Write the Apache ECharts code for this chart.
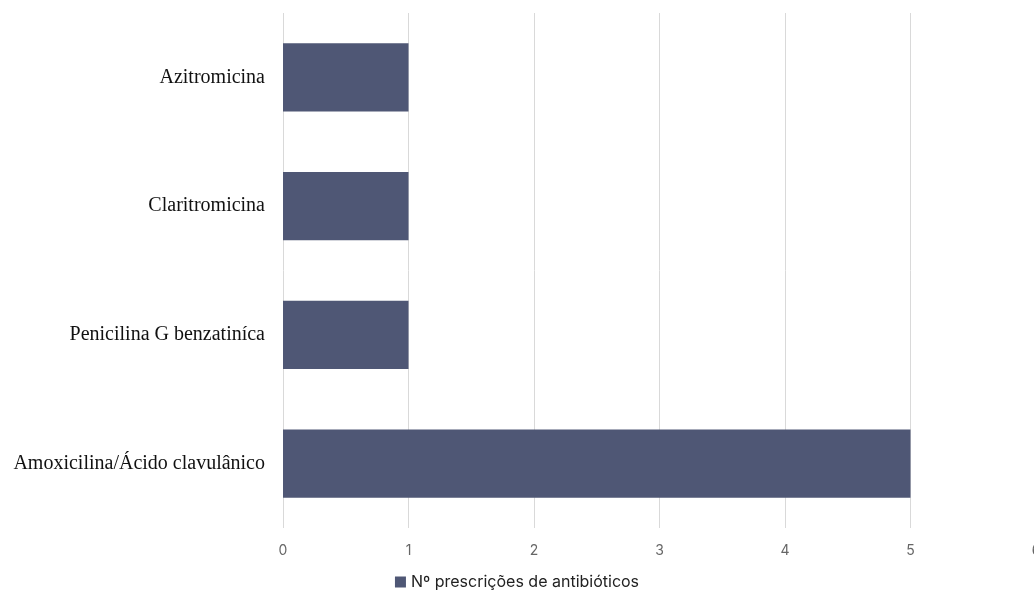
<!DOCTYPE html>
<html><head><meta charset="utf-8">
<script src="https://cdn.jsdelivr.net/npm/echarts@6/dist/echarts.min.js"></script>
<style>html,body{margin:0;padding:0;background:#fff}#c{width:1034px;height:592px}</style>
</head><body><div id="c"></div>
<script>
const categories = ['Amoxicilina/Ácido clavulânico', 'Penicilina G benzatiníca', 'Claritromicina', 'Azitromicina'];
const values = [5, 1, 1, 1];
const seriesName = 'Nº prescrições de antibióticos';
const chart = echarts.init(document.getElementById('c'));
chart.setOption({
  animation: false,
  grid: { left: 283, right: -2, top: 13, bottom: 64, outerBoundsMode: 'none', containLabel: false },
  legend: {
    bottom: -3, left: 'center', itemWidth: 11, itemHeight: 11, itemGap: 3,
    textStyle: { fontFamily: 'Inter', fontSize: 16, color: '#222' },
    data: [{ name: seriesName, icon: 'rect' }]
  },
  xAxis: {
    type: 'value', min: 0, max: 6, interval: 1,
    axisLine: { show: false }, axisTick: { show: false },
    splitLine: { lineStyle: { color: '#d9d9d9', width: 1 } },
    axisLabel: { fontFamily: 'Inter', fontSize: 14, color: '#666', margin: 16 }
  },
  yAxis: {
    type: 'category', data: categories,
    axisLine: { show: false }, axisTick: { show: false },
    axisLabel: { fontFamily: 'Liberation Serif', fontSize: 20, color: '#111', margin: 18 }
  },
  series: [{
    name: seriesName, type: 'bar', data: values, barWidth: '53%',
    itemStyle: { color: '#4f5775' }
  }]
});
</script></body></html>
